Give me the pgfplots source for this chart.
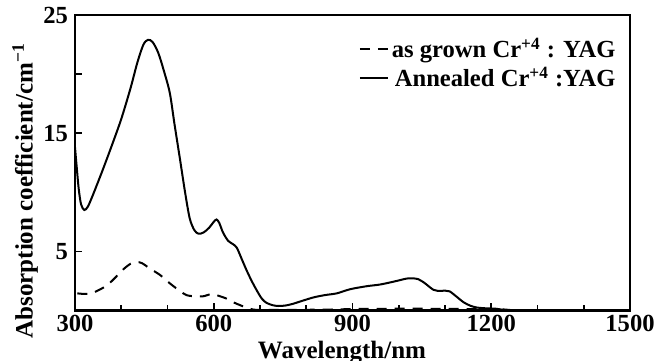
\documentclass[border=0pt]{standalone}
\usepackage{pgfplots}
\pgfplotsset{compat=1.18}
\usepackage{fontspec}
\setmainfont{Liberation Serif}
\begin{document}
\begin{tikzpicture}
\begin{axis}[
  scale only axis, width=277.5pt, height=147.75pt,
  xmin=300, xmax=1500, ymin=0, ymax=25,
  xtick={300,600,900,1200,1500},
  minor xtick={400,500,700,800,1000,1100,1300,1400},
  ytick={5,15,25}, extra y ticks={20}, extra y tick labels={},
  extra y tick style={tick style={black}},
  tick pos=left, tick align=inside,
  major tick length=3.5pt, minor tick length=2.5pt,
  axis line style={line width=1.4pt},
  every tick/.style={black, line width=0.8pt},
  /pgf/number format/assume math mode=true,
  /pgf/number format/1000 sep={},
  tick label style={font=\fontsize{12.3}{14}\selectfont\bfseries},
  xticklabel style={yshift=1pt},
  xlabel={Wavelength/nm},
  ylabel={Absorption coefficient/cm\textsuperscript{−1}},
  label style={font=\fontsize{12.5}{14}\selectfont\bfseries},
  xlabel style={at={(axis description cs:0.481,-0.162)}, anchor=base},
  ylabel style={at={(axis description cs:-0.09,0.405)}, anchor=center},
  legend style={at={(axis description cs:0.991,0.948)}, anchor=north east,
    draw=none, fill=none, font=\fontsize{12.3}{14}\selectfont\bfseries,
    nodes={inner sep=1.5pt}},
  legend cell align=right,
  legend image code/.code={\draw[#1] (0pt,0pt) -- (14pt,0pt);},
]
\addplot[black, line width=1pt, dash pattern=on 5pt off 4pt, smooth, tension=0.5] coordinates {
(305,1.45) (320,1.4) (335,1.45) (350,1.7) (370,2.15) (390,2.9) (405,3.5)
(420,3.95) (433,4.1) (445,4.0) (462,3.55) (484,3.0) (505,2.3) (525,1.7)
(541,1.3) (560,1.2) (577,1.2) (596,1.4) (610,1.25) (628,1.0) (645,0.65)
(657,0.45) (670,0.25) (685,0.08) (700,0.05) (750,0.05) (800,0.06) (850,0.08)
(900,0.12) (950,0.14) (1000,0.15) (1050,0.15) (1100,0.14) (1150,0.12)
(1200,0.12) (1230,0.08) (1245,0.02)
};
\addlegendentry{as grown Cr\textsuperscript{+4} : YAG}
\addplot[black, line width=1pt, smooth, tension=0.5] coordinates {
(300,13.8) (304,12.0) (308,10.3) (313,9.0) (320,8.5) (328,8.8) (340,9.9)
(360,11.9) (380,14.0) (400,16.2) (420,18.8) (435,21.0) (448,22.5) (458,22.9)
(468,22.7) (480,21.8) (492,20.3) (505,18.4) (515,15.8) (527,12.8) (538,10.0)
(548,7.8) (558,6.8) (567,6.5) (578,6.6) (590,7.0) (600,7.5) (606,7.7)
(612,7.4) (620,6.6) (631,5.9) (642,5.6) (650,5.3) (660,4.4) (671,3.4)
(682,2.5) (693,1.7) (704,1.0) (714,0.65) (727,0.45) (740,0.38) (755,0.42)
(770,0.55) (790,0.8) (815,1.1) (840,1.3) (866,1.45) (895,1.8) (930,2.05)
(960,2.2) (990,2.45) (1017,2.7) (1030,2.72) (1042,2.65) (1055,2.35)
(1064,2.07) (1075,1.75) (1085,1.65) (1100,1.68) (1110,1.62) (1125,1.17)
(1140,0.7) (1155,0.4) (1169,0.25) (1190,0.18) (1210,0.15) (1233,0.0)
};
\addlegendentry{Annealed Cr\textsuperscript{+4} :YAG}
\end{axis}
\pgfresetboundingbox
\path ([shift={(-37.5pt,-25.25pt)}]current axis.south west) rectangle ([shift={(16pt,7.5pt)}]current axis.north east);
\end{tikzpicture}
\end{document}
